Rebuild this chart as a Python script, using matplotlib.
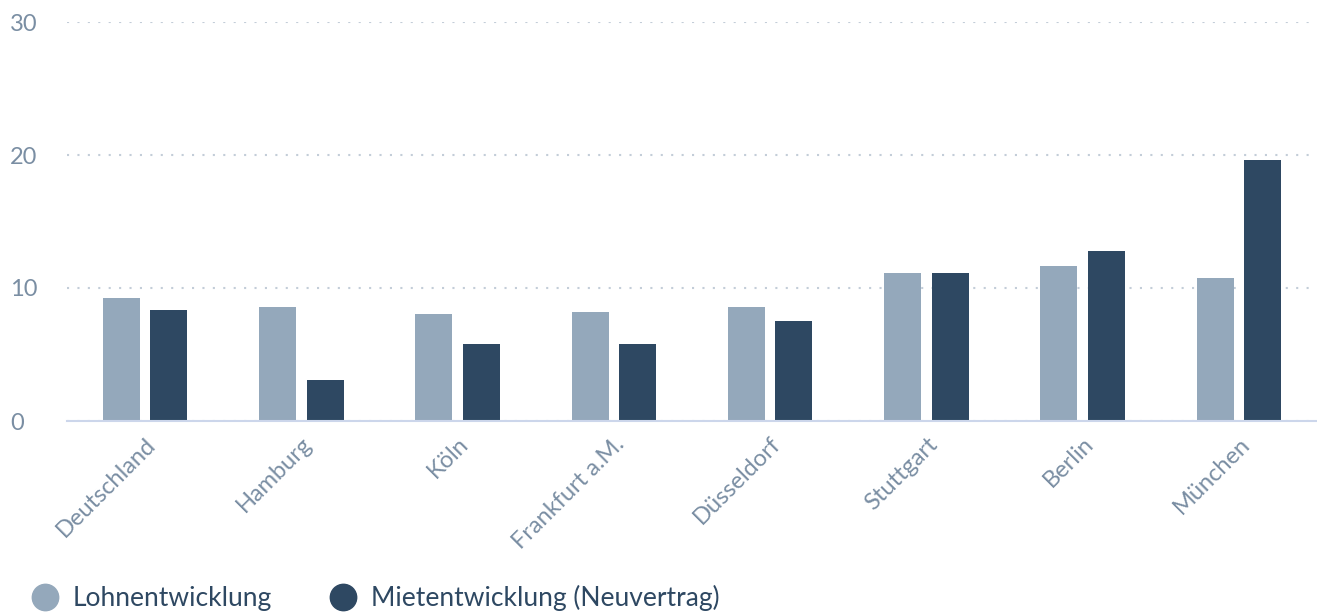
import matplotlib.pyplot as plt
from matplotlib.lines import Line2D
import numpy as np

# Werte (Prozent)
staedte = ["Deutschland", "Hamburg", "Köln", "Frankfurt a.M.", "Düsseldorf",
           "Stuttgart", "Berlin", "München"]
lohn = [9.25, 8.55, 8.05, 8.2, 8.55, 11.1, 11.65, 10.75]
miete = [8.35, 3.1, 5.8, 5.8, 7.5, 11.1, 12.8, 19.6]
serien = ["Lohnentwicklung", "Mietentwicklung (Neuvertrag)"]

HELL = "#94a8bb"
DUNKEL = "#2e4862"
LABEL = "#7a8ea3"

plt.rcParams['font.family'] = ['Lato', 'DejaVu Sans']

fig = plt.figure(figsize=(13.17, 6.13), dpi=100)
ax = fig.add_axes([67 / 1317, 1 - 421 / 613, 1250 / 1317, 399 / 613])

x = np.arange(len(staedte))
ax.bar(x - 0.152, lohn, width=0.237, color=HELL, zorder=3)
ax.bar(x + 0.152, miete, width=0.237, color=DUNKEL, zorder=3)

ax.set_xlim(-0.5, len(staedte) - 0.5)
ax.set_ylim(0, 30)
ax.set_yticks([0, 10, 20, 30])
ax.yaxis.grid(True, linestyle=(0, (1, 4)), color="#c3cdd8", linewidth=1.5, zorder=0)

for s in ["top", "right", "left"]:
    ax.spines[s].set_visible(False)
ax.spines["bottom"].set_color("#ccd6eb")
ax.spines["bottom"].set_linewidth(1.5)
ax.spines["bottom"].set_zorder(4)

ax.tick_params(axis="y", length=0, pad=41, labelsize=17, labelcolor=LABEL)
ax.tick_params(axis="x", length=0, pad=9, labelsize=17, labelcolor=LABEL)
ax.set_xticks(x)
ax.set_xticklabels(staedte, rotation=45, ha="right", rotation_mode="anchor")
for t in ax.get_yticklabels():
    t.set_horizontalalignment("left")

# Legende mit runden Symbolen
handles = [Line2D([], [], marker="o", linestyle="none", markersize=19,
                  markerfacecolor=c, markeredgecolor=c) for c in [HELL, DUNKEL]]
leg = fig.legend(handles, serien, loc="center left",
                 bbox_to_anchor=(32 / 1317, 1 - 598 / 613), ncol=2,
                 frameon=False, fontsize=19, handlelength=1.0,
                 columnspacing=2.2, handletextpad=0.55,
                 borderpad=0, borderaxespad=0)
for txt in leg.get_texts():
    txt.set_color(DUNKEL)

fig.savefig("out.png", dpi=100)
